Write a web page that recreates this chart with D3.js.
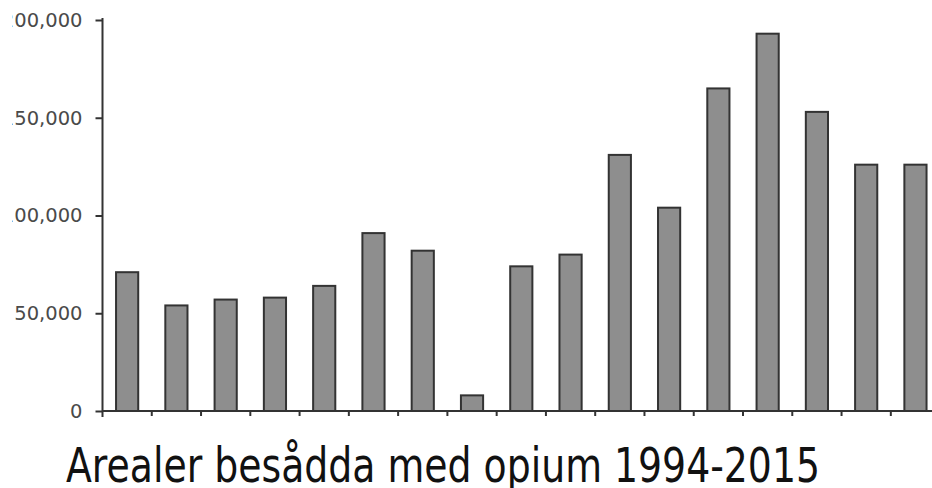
<!DOCTYPE html>
<html>
<head>
<meta charset="utf-8">
<script src="https://cdn.jsdelivr.net/npm/d3@7"></script>
<style>
  body { margin: 0; background: #fff; }
  svg { display: block; }
</style>
</head>
<body>
<div id="chart-area"></div>
<script>
// opium area per year (hectares)
var years = [1994, 1995, 1996, 1997, 1998, 1999, 2000, 2001, 2002, 2003,
             2004, 2005, 2006, 2007, 2008, 2009, 2010];
var hectares = [71000, 54000, 57000, 58000, 64000, 91000, 82000, 8000, 74000, 80000,
                131000, 104000, 165000, 193000, 153000, 126000, 126000];
var yTicks = [0, 50000, 100000, 150000, 200000];
var title = "Arealer besådda med opium 1994-2015";

var width = 932, height = 488;
var axisX = 102.5, baseY = 411, topY = 20;
var bandW = 49.27;

var svg = d3.select("#chart-area").append("svg")
    .attr("width", width)
    .attr("height", height);

// the source image is cropped on the left, labels are cut there
svg.append("clipPath").attr("id", "leftcrop")
  .append("rect")
    .attr("x", 12).attr("y", 0)
    .attr("width", width).attr("height", height);

var x = d3.scaleBand()
    .domain(years)
    .range([axisX, axisX + bandW * years.length])
    .paddingInner(0.55)
    .paddingOuter(0.275);

var y = d3.scaleLinear()
    .domain([0, 200000])
    .range([baseY, topY]);

// bars
svg.selectAll("rect.bar").data(hectares)
  .enter().append("rect")
    .attr("class", "bar")
    .attr("x", function(d, i) { return x(years[i]); })
    .attr("y", function(d) { return y(d); })
    .attr("width", x.bandwidth())
    .attr("height", function(d) { return baseY - y(d); })
    .attr("fill", "#8e8e8e")
    .attr("stroke", "#333")
    .attr("stroke-width", 2);

// y axis
var yAxis = d3.axisLeft(y)
    .tickValues(yTicks)
    .tickSize(7)
    .tickPadding(13)
    .tickFormat(d3.format(","));
var gy = svg.append("g")
    .attr("clip-path", "url(#leftcrop)")
  .append("g")
    .attr("transform", "translate(" + axisX + ",0)")
    .call(yAxis);
gy.select(".domain").remove();
gy.selectAll(".tick line").attr("stroke", "#333").attr("stroke-width", 2);
gy.selectAll(".tick text")
    .attr("font-family", "DejaVu Sans, Verdana, sans-serif")
    .attr("font-size", 19.5)
    .attr("fill", "#4a4a4a");
gy.append("line")
    .attr("x1", 0).attr("x2", 0)
    .attr("y1", topY - 2).attr("y2", baseY + 6)
    .attr("stroke", "#333").attr("stroke-width", 2);

// x axis: ticks between the bars, no labels
var bounds = years.map(function(d, i) { return axisX + bandW * (i + 1); });
svg.append("line")
    .attr("x1", axisX).attr("x2", width)
    .attr("y1", baseY).attr("y2", baseY)
    .attr("stroke", "#333").attr("stroke-width", 2);
svg.selectAll("line.xtick").data(bounds)
  .enter().append("line")
    .attr("class", "xtick")
    .attr("x1", function(d) { return d; })
    .attr("x2", function(d) { return d; })
    .attr("y1", baseY).attr("y2", baseY + 5)
    .attr("stroke", "#333").attr("stroke-width", 2);

// title under the chart
svg.append("text")
    .attr("x", 66)
    .attr("y", 482)
    .attr("font-family", "DejaVu Sans Condensed, Liberation Sans Narrow, sans-serif")
    .attr("font-size", 48)
    .attr("textLength", 754)
    .attr("lengthAdjust", "spacingAndGlyphs")
    .attr("fill", "#111")
    .text(title);
</script>
</body>
</html>
